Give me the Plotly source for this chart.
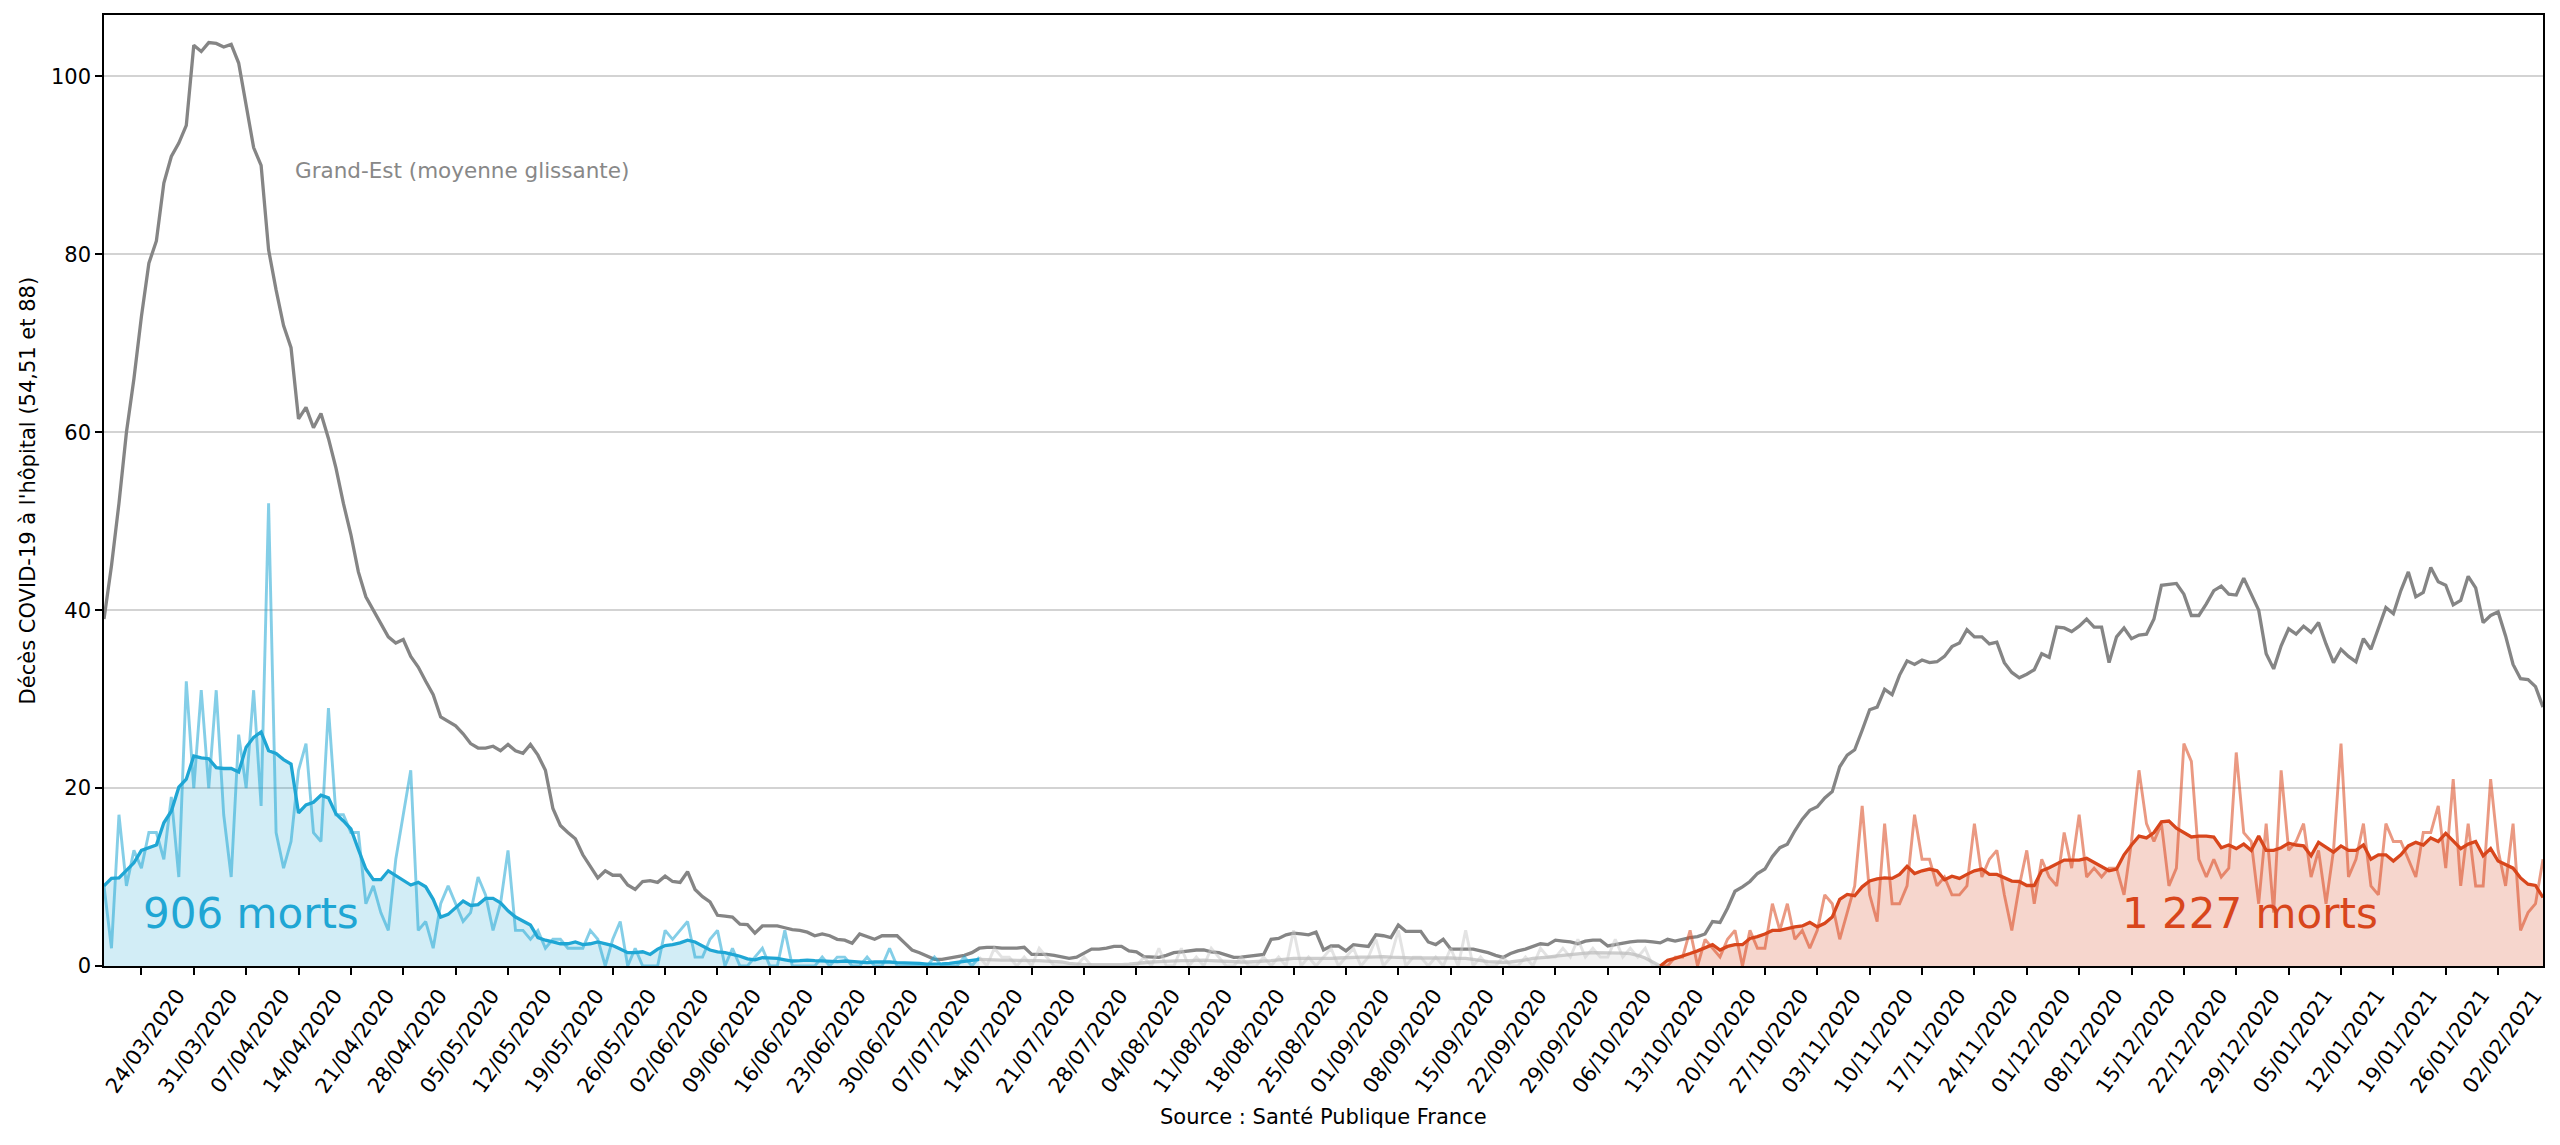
import pandas as pd
import plotly.graph_objects as go

# ---------------- data ----------------
dates = pd.date_range("2020-03-19", "2021-02-08", freq="D")

# Grand-Est, 7-day moving average (whole period)
ge_ma = [
    39, 45, 52, 60, 66, 73, 79, 81.5, 88, 91,
    92.5, 94.5, 103.5, 102.8, 103.8, 103.7, 103.3, 103.6, 101.5, 97,
    92, 90, 80.5, 76, 72, 69.5, 61.5, 62.8, 60.5, 62.1,
    59.3, 56, 52, 48.5, 44.3, 41.5, 40, 38.5, 37, 36.3,
    36.7, 34.8, 33.6, 32, 30.5, 28, 27.5, 27, 26.1, 25,
    24.5, 24.5, 24.7, 24.2, 24.9, 24.2, 23.9, 24.9, 23.7, 22,
    17.7, 15.8, 15, 14.3, 12.5, 11.2, 9.9, 10.7, 10.2, 10.2,
    9.1, 8.6, 9.5, 9.6, 9.4, 10.1, 9.5, 9.4, 10.6, 8.6,
    7.8, 7.2, 5.7, 5.6, 5.5, 4.7, 4.65, 3.7, 4.5, 4.5,
    4.5, 4.3, 4.1, 4.0, 3.8, 3.4, 3.6, 3.4, 3.0, 2.9,
    2.55, 3.6, 3.3, 3.0, 3.4, 3.4, 3.4, 2.6, 1.8, 1.5,
    1.1, 0.75, 0.75, 0.9, 1.05, 1.2, 1.5, 2.0, 2.1, 2.1,
    2.0, 2.0, 2.0, 2.1, 1.3, 1.3, 1.3, 1.2, 1.0, 0.86,
    1.0, 1.5, 1.9, 1.9, 2.0, 2.2, 2.2, 1.7, 1.6, 1.05,
    1.0, 0.97, 1.2, 1.5, 1.6, 1.7, 1.8, 1.8, 1.6, 1.5,
    1.2, 0.97, 1.0, 1.1, 1.2, 1.3, 3.0, 3.1, 3.5, 3.7,
    3.6, 3.5, 3.8, 1.8, 2.25, 2.25, 1.7, 2.4, 2.3, 2.2,
    3.5, 3.4, 3.2, 4.6, 3.9, 3.9, 3.9, 2.7, 2.4, 3.0,
    1.9, 1.9, 1.9, 1.9, 1.7, 1.5, 1.2, 0.97, 1.4, 1.7,
    1.9, 2.2, 2.5, 2.4, 2.9, 2.8, 2.7, 2.5, 2.8, 2.9,
    2.9, 2.25, 2.4, 2.6, 2.7, 2.8, 2.8, 2.7, 2.6, 3.0,
    2.8, 3.0, 3.2, 3.3, 3.6, 5.0, 4.9, 6.5, 8.4, 8.9,
    9.5, 10.4, 10.9, 12.3, 13.3, 13.7, 15.2, 16.5, 17.5, 17.9,
    18.9, 19.6, 22.4, 23.7, 24.3, 26.5, 28.8, 29.1, 31.1, 30.5,
    32.7, 34.3, 33.9, 34.4, 34.1, 34.2, 34.8, 35.9, 36.3, 37.8,
    37.0, 37.0, 36.2, 36.4, 34.1, 33.0, 32.4, 32.8, 33.3, 35.1,
    34.7, 38.1, 38.0, 37.6, 38.2, 39.0, 38.1, 38.1, 34.1, 37.0,
    38.0, 36.8, 37.2, 37.3, 39.0, 42.8, 42.9, 43.0, 41.8, 39.4,
    39.4, 40.7, 42.2, 42.7, 41.8, 41.7, 43.6, 41.7, 40.0, 35.1,
    33.4, 36.0, 37.9, 37.3, 38.2, 37.5, 38.6, 36.2, 34.1, 35.6,
    34.8, 34.2, 36.8, 35.6, 37.9, 40.3, 39.6, 42.2, 44.3, 41.5,
    42.0, 44.8, 43.2, 42.8, 40.6, 41.1, 43.8, 42.5, 38.6, 39.4,
    39.8, 37.1, 33.9, 32.3, 32.2, 31.4, 29.1,
]

# First wave (19/03 -> 14/07/2020): daily deaths and moving average
w1_daily = [
    9, 2, 17, 9, 13, 11, 15, 15, 12, 19,
    10, 32, 20, 31, 20, 31, 17, 10, 26, 20,
    31, 18, 52, 15, 11, 14, 22, 25, 15, 14,
    29, 17, 17, 15, 15, 7, 9, 6, 4, 12,
    17, 22, 4, 5, 2, 7, 9, 7, 5, 6,
    10, 8, 4, 7, 13, 4, 4, 3, 4, 2,
    3, 3, 2, 2, 2, 4, 3, 0, 3, 5,
    0, 2, 0, 0, 0, 4, 3, 4, 5, 1,
    1, 3, 4, 0, 2, 0, 0, 1, 2, 0,
    0, 4, 0, 0, 0, 0, 1, 0, 1, 1,
    0, 0, 1, 0, 0, 2, 0, 0, 0, 0,
    0, 1, 0, 0, 0, 1, 0, 1,
]
w1_ma = [
    9.0, 9.85, 9.9, 10.7, 11.6, 13.0, 13.3, 13.6, 16.1, 17.4,
    20.1, 21.0, 23.6, 23.4, 23.3, 22.3, 22.2, 22.2, 21.8, 24.6,
    25.7, 26.3, 24.2, 23.9, 23.2, 22.7, 17.2, 18.1, 18.4, 19.2,
    18.9, 17.1, 16.3, 15.4, 13.1, 10.9, 9.7, 9.7, 10.7, 10.2,
    9.7, 9.1, 9.4, 8.9, 7.5, 5.5, 5.8, 6.6, 7.3, 6.8,
    6.9, 7.6, 7.6, 7.1, 6.2, 5.5, 5.1, 4.6, 3.2, 2.9,
    2.7, 2.5, 2.5, 2.7, 2.4, 2.5, 2.7, 2.5, 2.3, 1.9,
    1.5, 1.5, 1.6, 1.3, 1.9, 2.3, 2.4, 2.6, 2.9, 2.7,
    2.3, 1.8, 1.6, 1.5, 1.3, 1.1, 0.8, 0.7, 0.95, 0.9,
    0.86, 0.7, 0.56, 0.6, 0.67, 0.6, 0.55, 0.5, 0.5, 0.56,
    0.5, 0.45, 0.37, 0.45, 0.49, 0.45, 0.37, 0.37, 0.37, 0.3,
    0.2, 0.19, 0.25, 0.3, 0.4, 0.49, 0.6, 0.75,
]

# Summer (14/07 -> 13/10/2020)
summer_daily = [
    1, 0, 2, 1, 1, 0, 1, 0, 2, 1,
    0, 0, 0, 0, 1, 0, 0, 0, 0, 0,
    0, 0, 1, 0, 2, 0, 0, 2, 0, 1,
    0, 2, 1, 0, 0, 1, 0, 0, 1, 0,
    1, 0, 4, 0, 1, 0, 1, 2, 0, 1,
    2, 0, 1, 3, 0, 1, 4, 0, 1, 1,
    0, 1, 0, 2, 0, 4, 0, 1, 0, 0,
    1, 0, 0, 1, 0, 2, 1, 1, 2, 1,
    3, 1, 2, 1, 1, 3, 1, 2, 1, 2,
    0, 0,
]
summer_ma = [
    0.75, 0.7, 0.65, 0.65, 0.65, 0.65, 0.65, 0.65, 0.6, 0.55,
    0.5, 0.45, 0.3, 0.2, 0.15, 0.15, 0.15, 0.15, 0.1, 0.15,
    0.2, 0.3, 0.4, 0.45, 0.5, 0.55, 0.6, 0.6, 0.6, 0.65,
    0.65, 0.6, 0.55, 0.5, 0.45, 0.45, 0.45, 0.5, 0.5, 0.6,
    0.7, 0.8, 0.85, 0.85, 0.85, 0.8, 0.8, 0.85, 0.9, 0.95,
    1.0, 1.0, 1.0, 1.05, 1.05, 1.0, 1.0, 0.95, 0.9, 0.9,
    0.9, 0.95, 0.95, 0.9, 0.85, 0.85, 0.75, 0.6, 0.5, 0.45,
    0.4, 0.45, 0.55, 0.7, 0.85, 0.9, 1.0, 1.1, 1.2, 1.3,
    1.4, 1.45, 1.5, 1.5, 1.5, 1.5, 1.45, 1.4, 1.2, 0.9,
    0.5, 0.0,
]

# Second wave (13/10/2020 -> 08/02/2021)
w2_daily = [
    0, 0, 1, 1, 4, 0, 3, 2, 1, 3,
    4, 0, 4, 2, 2, 7, 4, 7, 3, 4,
    2, 4, 8, 7, 3, 6, 9, 18, 8, 5,
    16, 7, 7, 9, 17, 12, 12, 9, 10, 8,
    8, 9, 16, 10, 12, 13, 8, 4, 9, 13,
    7, 12, 10, 9, 15, 11, 17, 10, 11, 10,
    11, 11, 8, 14, 22, 16, 14, 16, 9, 11,
    25, 23, 12, 10, 12, 10, 11, 24, 15, 14,
    7, 16, 6, 22, 13, 14, 16, 10, 13, 7,
    13, 25, 10, 12, 16, 9, 8, 16, 14, 14,
    12, 10, 15, 15, 18, 11, 21, 9, 16, 9,
    9, 21, 13, 9, 16, 4, 6, 7, 12,
]
w2_ma = [
    0, 0.64, 0.86, 1.1, 1.4, 1.7, 2.1, 2.4, 1.8, 2.2,
    2.4, 2.4, 3.1, 3.3, 3.6, 4.0, 4.0, 4.2, 4.4, 4.5,
    4.9, 4.4, 4.8, 5.5, 7.5, 8.05, 7.9, 8.9, 9.55, 9.8,
    9.9, 9.85, 10.3, 11.2, 10.4, 10.7, 10.9, 10.7, 9.7, 10.1,
    9.85, 10.3, 10.7, 10.9, 10.3, 10.3, 9.9, 9.55, 9.5, 9.05,
    9.05, 10.7, 11.05, 11.5, 11.9, 11.9, 11.9, 12.1, 11.6, 11.1,
    10.7, 10.9, 12.5, 13.6, 14.6, 14.4, 15.0, 16.2, 16.3, 15.5,
    15.0, 14.5, 14.6, 14.6, 14.5, 13.3, 13.6, 13.2, 13.7, 13.0,
    14.6, 13.0, 13.0, 13.3, 13.8, 13.6, 13.5, 12.4, 13.9, 13.4,
    12.8, 13.5, 13.0, 13.0, 13.6, 12.0, 12.5, 12.5, 11.8, 12.5,
    13.5, 13.9, 13.6, 14.4, 14.0, 14.9, 14.0, 13.2, 13.7, 14.0,
    12.4, 13.2, 11.8, 11.4, 11.0, 9.9, 9.2, 9.05, 7.7,
]

tick_labels = [
    "24/03/2020", "31/03/2020", "07/04/2020", "14/04/2020", "21/04/2020",
    "28/04/2020", "05/05/2020", "12/05/2020", "19/05/2020", "26/05/2020",
    "02/06/2020", "09/06/2020", "16/06/2020", "23/06/2020", "30/06/2020",
    "07/07/2020", "14/07/2020", "21/07/2020", "28/07/2020", "04/08/2020",
    "11/08/2020", "18/08/2020", "25/08/2020", "01/09/2020", "08/09/2020",
    "15/09/2020", "22/09/2020", "29/09/2020", "06/10/2020", "13/10/2020",
    "20/10/2020", "27/10/2020", "03/11/2020", "10/11/2020", "17/11/2020",
    "24/11/2020", "01/12/2020", "08/12/2020", "15/12/2020", "22/12/2020",
    "29/12/2020", "05/01/2021", "12/01/2021", "19/01/2021", "26/01/2021",
    "02/02/2021",
]
y_ticks = [0, 20, 40, 60, 80, 100]

# ---------------- figure ----------------
FONT = "DejaVu Sans"
CYAN = "#1fa6d4"
ORANGE = "#d8461c"

d1 = dates[:len(w1_daily)]
ds = dates[117:117 + len(summer_daily)]
d2 = dates[208:208 + len(w2_daily)]
tick_vals = [pd.to_datetime(t, format="%d/%m/%Y") for t in tick_labels]

fig = go.Figure()

# fills under moving averages
fig.add_trace(go.Scatter(x=d1, y=w1_ma, mode="lines", line=dict(width=0),
                         fill="tozeroy", fillcolor="rgba(31,166,212,0.2)", hoverinfo="skip"))
fig.add_trace(go.Scatter(x=ds, y=summer_ma, mode="lines", line=dict(width=0),
                         fill="tozeroy", fillcolor="rgba(190,190,190,0.2)", hoverinfo="skip"))
fig.add_trace(go.Scatter(x=d2, y=w2_ma, mode="lines", line=dict(width=0),
                         fill="tozeroy", fillcolor="rgba(216,70,28,0.22)", hoverinfo="skip"))

# Grand-Est
fig.add_trace(go.Scatter(x=dates, y=ge_ma, mode="lines",
                         line=dict(color="#858585", width=3.3)))

# daily values
fig.add_trace(go.Scatter(x=d1, y=w1_daily, mode="lines",
                         line=dict(color="rgba(31,166,212,0.55)", width=2.9)))
fig.add_trace(go.Scatter(x=ds, y=summer_daily, mode="lines",
                         line=dict(color="rgba(200,200,200,0.5)", width=2.9)))
fig.add_trace(go.Scatter(x=d2, y=w2_daily, mode="lines",
                         line=dict(color="rgba(216,70,28,0.55)", width=2.9)))

# moving averages
fig.add_trace(go.Scatter(x=d1, y=w1_ma, mode="lines", line=dict(color=CYAN, width=3.3)))
fig.add_trace(go.Scatter(x=ds, y=summer_ma, mode="lines",
                         line=dict(color="rgba(190,190,190,0.75)", width=3.3)))
fig.add_trace(go.Scatter(x=d2, y=w2_ma, mode="lines", line=dict(color=ORANGE, width=3.3)))

annotations = [
    dict(x=dates[5], y=5.9, xref="x", yref="y", text="906 morts", showarrow=False,
         xanchor="left", yanchor="middle", font=dict(family=FONT, size=42, color=CYAN)),
    dict(x=dates[269] + pd.Timedelta(hours=12), y=5.9, xref="x", yref="y", text="1 227 morts",
         showarrow=False, xanchor="left", yanchor="middle",
         font=dict(family=FONT, size=42, color=ORANGE)),
    dict(x=dates[25] + pd.Timedelta(hours=6), y=89.4, xref="x", yref="y",
         text="Grand-Est (moyenne glissante)", showarrow=False, xanchor="left", yanchor="middle",
         font=dict(family=FONT, size=21.5, color="#888888")),
    dict(x=0.5, y=-0.159, xref="paper", yref="paper", text="Source : Santé Publique France",
         showarrow=False, xanchor="center", yanchor="middle",
         font=dict(family=FONT, size=21, color="black")),
    dict(x=-0.0312, y=0.5, xref="paper", yref="paper",
         text="Décès COVID-19 à l'hôpital (54,51 et 88)", showarrow=False, textangle=-90,
         xanchor="center", yanchor="middle", font=dict(family=FONT, size=21, color="black")),
]

fig.update_layout(
    width=2560, height=1145, autosize=False,
    margin=dict(l=104, r=17, t=15, b=179),
    paper_bgcolor="white", plot_bgcolor="white",
    showlegend=False,
    font=dict(family=FONT, size=21, color="black"),
    annotations=annotations,
)
fig.update_xaxes(
    type="date",
    range=[dates[0], dates[-1]],
    tickmode="array", tickvals=tick_vals, ticktext=tick_labels,
    tickangle=-55, ticklabelshift=36,
    ticks="outside", ticklen=7, tickwidth=1.6, tickcolor="black",
    showline=True, linecolor="black", linewidth=1.6, mirror=True,
    showgrid=False, zeroline=False,
    tickfont=dict(family=FONT, size=21, color="black"),
)
fig.update_yaxes(
    range=[0, 106.9],
    tickmode="array", tickvals=y_ticks,
    ticks="outside", ticklen=7, tickwidth=1.6, tickcolor="black",
    showline=True, linecolor="black", linewidth=1.6, mirror=True,
    showgrid=True, gridcolor="#d3d3d3", gridwidth=1.6, zeroline=False,
    tickfont=dict(family=FONT, size=21, color="black"),
)

fig.write_html(
    "out.html",
    config={"displayModeBar": False},
    post_script="document.body.style.margin='0';document.body.style.overflow='hidden';",
)
